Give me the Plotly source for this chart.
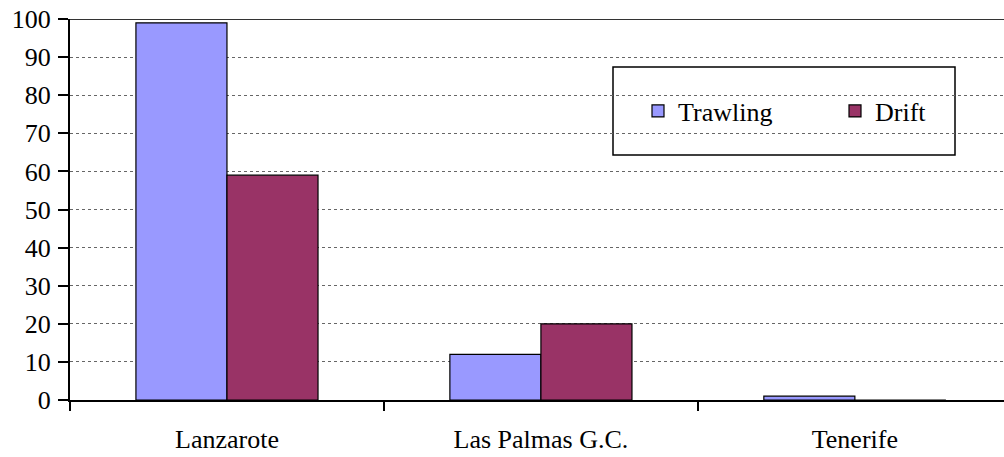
import plotly.graph_objects as go

categories = ["Lanzarote", "Las Palmas G.C.", "Tenerife"]
trawling = [99, 12, 1]
drift = [59, 20, 0]
y_ticks = [0, 10, 20, 30, 40, 50, 60, 70, 80, 90, 100]

font_family = "Liberation Serif"
FS = 26

fig = go.Figure()
fig.add_trace(go.Bar(name="Trawling", x=categories, y=trawling, legend="legend",
                     marker=dict(color="#9999FF", line=dict(color="black", width=1.2))))
fig.add_trace(go.Bar(name="Drift", x=categories, y=drift, legend="legend2",
                     marker=dict(color="#993366", line=dict(color="black", width=1.2))))

plot_w = 1004 - 70
leg_common = dict(orientation="h", yanchor="middle", xanchor="left", y=(400 - 111) / 381,
                  bgcolor="rgba(0,0,0,0)", borderwidth=0,
                  font=dict(family=font_family, size=FS, color="black"))

fig.update_layout(
    width=1004, height=457,
    margin=dict(l=70, r=0, t=19, b=57, autoexpand=False),
    paper_bgcolor="white", plot_bgcolor="white",
    barmode="group", bargap=0.42, bargroupgap=0,
    font=dict(family=font_family, size=FS, color="black"),
    showlegend=True,
    legend=dict(x=(660 - 22 - 70) / plot_w, **leg_common),
    legend2=dict(x=(857 - 22 - 70) / plot_w, **leg_common),
    xaxis=dict(type="category", range=[-0.5, 2.475], showline=True, linecolor="black", linewidth=2,
               ticks="outside", tickson="boundaries", ticklen=9, tickcolor="black", tickwidth=1.5,
               showgrid=False, ticklabelstandoff=15, automargin=False, layer="above traces",
               tickfont=dict(family=font_family, size=FS)),
    yaxis=dict(range=[0, 100], tickvals=y_ticks, showline=True, linecolor="black", linewidth=2,
               ticks="outside", ticklen=10, tickcolor="black", tickwidth=1.5,
               showgrid=True, gridcolor="#666666", gridwidth=1, griddash="dot",
               zeroline=False, ticklabelstandoff=2, automargin=False, layer="above traces",
               tickfont=dict(family=font_family, size=FS)),
    shapes=[
        dict(type="line", xref="paper", yref="y", x0=0, x1=1, y0=100, y1=100,
             line=dict(color="#333333", width=2)),
        dict(type="rect", xref="paper", yref="paper",
             x0=(613 - 70) / plot_w, x1=(955 - 70) / plot_w,
             y0=(400 - 155) / 381, y1=(400 - 67) / 381,
             line=dict(color="black", width=1.5), fillcolor="white", layer="below"),
    ],
)

fig.write_html("out.html", config={"displayModeBar": False},
               post_script="document.body.style.margin='0';document.body.style.overflow='hidden';")
